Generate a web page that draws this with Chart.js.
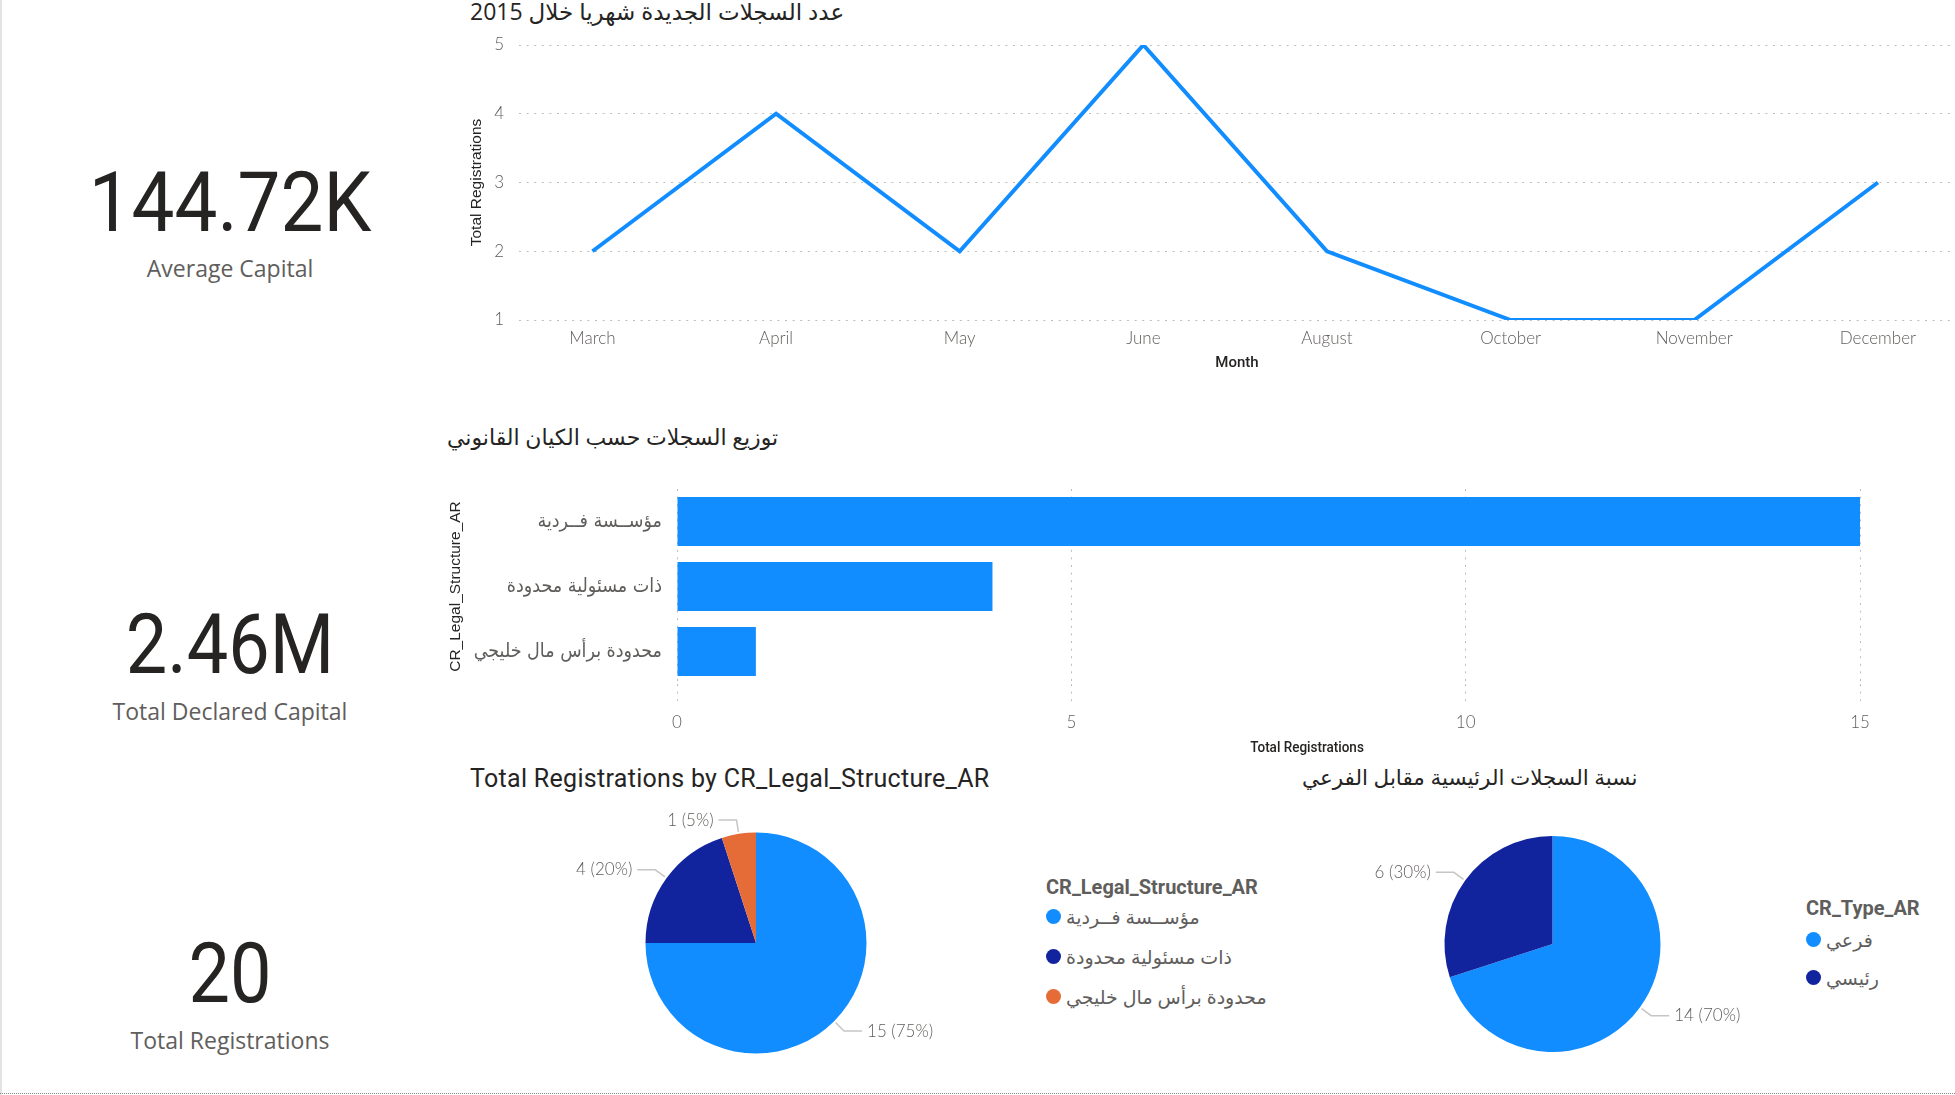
<!DOCTYPE html>
<html lang="ar">
<head>
<meta charset="utf-8">
<title>CR Registrations 2015</title>
<script src="https://cdn.jsdelivr.net/npm/chart.js@4.4.1/dist/chart.umd.min.js"></script>
<style>
  body { margin: 0; width: 1955px; height: 1095px; position: relative; overflow: hidden; background: #fff;
         font-family: 'Segoe UI', 'Open Sans', 'DejaVu Sans', sans-serif; }
  .edge-left { position: absolute; left: 0; top: 0; width: 2px; height: 1095px; background: #e3e3e3; }
  .edge-bottom { position: absolute; left: 0; top: 1093px; width: 1955px; border-top: 1px dotted #8a8a8a; }
  .txt { position: absolute; white-space: nowrap; line-height: 40px; height: 40px; }
  .kpi-val { font-family: Roboto, sans-serif; font-size: 83px; color: #252423; line-height: 100px; height: 100px;
             width: 400px; left: 30px; text-align: center; }
  .kpi-lbl { font-size: 23px; color: #605E5C; width: 400px; left: 30px; text-align: center; }
  .ttl { color: #252423; font-size: 22px; }
  .ttl-en { font-family: Roboto, sans-serif; font-size: 25px; letter-spacing: 0.3px; }
  .axis-ttl { font-family: Roboto, sans-serif; font-weight: 500; font-size: 15px; color: #252423; transform: translateX(-50%) scaleX(0.9); }
  .box { position: absolute; }
  .lg-title { font-family: Roboto, sans-serif; font-weight: 700; font-size: 20px; color: #605E5C; }
  .lg-item { font-size: 19px; color: #605E5C; padding-left: 20px; }
  .lg-item i { position: absolute; left: 0; top: 12px; width: 15px; height: 15px; border-radius: 50%; }
</style>
</head>
<body>
<div class="edge-left"></div>
<div class="edge-bottom"></div>

<div class="txt kpi-val" style="top:153px;transform:scaleX(0.92)">144.72K</div>
<div class="txt kpi-lbl" style="top:248px">Average Capital</div>
<div class="txt kpi-val" style="top:595px;transform:scaleX(0.89)">2.46M</div>
<div class="txt kpi-lbl" style="top:691px">Total Declared Capital</div>
<div class="txt kpi-val" style="top:924px;transform:scaleX(0.89)">20</div>
<div class="txt kpi-lbl" style="top:1020px">Total Registrations</div>

<div class="txt ttl" dir="rtl" style="left:470px;top:-9px;font-size:23px">عدد السجلات الجديدة شهريا خلال 2015</div>
<div class="txt ttl" dir="rtl" style="left:447px;top:416px">توزيع السجلات حسب الكيان القانوني</div>
<div class="txt ttl ttl-en" style="left:470px;top:759px">Total Registrations by CR_Legal_Structure_AR</div>
<div class="txt ttl" dir="rtl" style="left:1302px;top:757px;font-size:21.5px">نسبة السجلات الرئيسية مقابل الفرعي</div>

<div class="box" style="left:460px;top:0;width:1495px;height:390px"><canvas id="lineChart"></canvas></div>
<div class="box" style="left:440px;top:400px;width:1460px;height:360px"><canvas id="barChart"></canvas></div>
<div class="txt axis-ttl" style="left:1307px;top:727px">Total Registrations</div>

<div class="box" style="left:540px;top:800px;width:440px;height:290px"><canvas id="pieStructure"></canvas></div>
<div class="box" style="left:1340px;top:800px;width:440px;height:290px"><canvas id="pieType"></canvas></div>
<div id="legendStructure"></div>
<div id="legendType"></div>

<script>
// ---- data ----
const months = ['March', 'April', 'May', 'June', 'August', 'October', 'November', 'December'];
const monthlyRegistrations = [2, 4, 2, 5, 2, 1, 1, 3];

const legalStructures = ['مؤســسة فــردية', 'ذات مسئولية محدودة', 'محدودة برأس مال خليجي'];
const registrationsByStructure = [15, 4, 1];

const crTypes = ['فرعي', 'رئيسي'];
const registrationsByType = [14, 6];

const blue = '#118DFF', navy = '#12239E', orange = '#E66C37';
const gridGray = '#BDBDBD', leaderGray = '#C8C6C4', labelGray = '#605E5C', darkText = '#252423';
const tickFont = { family: "Lato, 'Segoe UI', sans-serif", size: 17, weight: 300 };
const dots = [2, 5.6];

Chart.defaults.animation = false;
Chart.defaults.plugins.tooltip.enabled = false;
Chart.defaults.plugins.legend.display = false;

// ---- line chart ----
new Chart(document.getElementById('lineChart'), {
    type: 'line',
    data: {
        datasets: [{
            data: monthlyRegistrations.map((v, i) => ({ x: i, y: v })),
            borderColor: blue,
            borderWidth: 4,
            pointRadius: 0,
            tension: 0
        }]
    },
    options: {
        responsive: true,
        maintainAspectRatio: false,
        layout: { padding: { top: 45 } },
        scales: {
            x: {
                type: 'linear', min: -0.4, max: 7.42,
                afterFit: s => { s.height = 70; },
                grid: { display: false, drawTicks: false },
                border: { display: false },
                ticks: { stepSize: 1, includeBounds: false, autoSkip: false, maxRotation: 0, padding: 8,
                         color: labelGray, font: tickFont,
                         callback: v => months[v] ?? '' },
                title: { display: true, text: 'Month', color: darkText, padding: { bottom: 18 },
                         font: { family: 'Roboto, sans-serif', size: 15, weight: 500 } }
            },
            y: {
                min: 1, max: 5,
                afterFit: s => { s.width = 59; },
                grid: { color: gridGray, drawTicks: false },
                border: { display: false, dash: dots },
                ticks: { stepSize: 1, padding: 15, color: labelGray, font: tickFont },
                title: { display: true, text: 'Total Registrations', color: darkText, padding: { top: 7 },
                         font: { family: "'Liberation Sans', Arial, sans-serif", size: 15.5 } }
            }
        }
    }
});

// ---- horizontal bar chart ----
new Chart(document.getElementById('barChart'), {
    type: 'bar',
    data: {
        labels: legalStructures,
        datasets: [{ data: registrationsByStructure, backgroundColor: blue,
                     categoryPercentage: 1, barPercentage: 0.754 }]
    },
    options: {
        indexAxis: 'y',
        responsive: true,
        maintainAspectRatio: false,
        layout: { padding: { top: 89, right: 40 } },
        scales: {
            x: {
                min: 0, max: 15,
                afterFit: s => { s.height = 76; },
                grid: { color: gridGray, tickLength: 21, tickColor: gridGray, tickBorderDash: dots },
                border: { display: false, dash: dots },
                ticks: { stepSize: 5, padding: 7, color: labelGray, font: tickFont }
            },
            y: {
                afterFit: s => { s.width = 237; },
                grid: { display: false, drawTicks: false },
                border: { display: false },
                ticks: { padding: 15, color: labelGray,
                         font: { family: "'DejaVu Sans Condensed', 'DejaVu Sans', sans-serif", size: 19.5 } },
                title: { display: true, text: 'CR_Legal_Structure_AR', color: darkText, padding: { top: 6 },
                         font: { family: "'Liberation Sans', Arial, sans-serif", size: 15.5 } }
            }
        }
    }
});

// ---- pies with leader-line labels ----
const leaderLabels = {
    id: 'leaderLabels',
    afterDatasetsDraw(chart) {
        const ctx = chart.ctx;
        const values = chart.data.datasets[0].data;
        const total = values.reduce((a, b) => a + b, 0);
        ctx.save();
        ctx.font = "300 17px Lato, 'Segoe UI', sans-serif";
        ctx.textBaseline = 'middle';
        chart.getDatasetMeta(0).data.forEach((arc, i) => {
            const p = arc.getProps(['x', 'y', 'startAngle', 'endAngle', 'outerRadius'], true);
            const mid = (p.startAngle + p.endAngle) / 2;
            const c = Math.cos(mid), s = Math.sin(mid);
            const x0 = p.x + c * (p.outerRadius + 2), y0 = p.y + s * (p.outerRadius + 2);
            const x1 = p.x + c * (p.outerRadius + 14), y1 = p.y + s * (p.outerRadius + 14);
            const dir = c >= 0 ? 1 : -1;
            const x2 = x1 + dir * 18;
            ctx.strokeStyle = leaderGray;
            ctx.lineWidth = 1.5;
            ctx.beginPath();
            ctx.moveTo(x0, y0);
            ctx.lineTo(x1, y1);
            ctx.lineTo(x2, y1);
            ctx.stroke();
            ctx.fillStyle = labelGray;
            ctx.textAlign = dir > 0 ? 'left' : 'right';
            ctx.fillText(values[i] + ' (' + Math.round(values[i] / total * 100) + '%)', x2 + dir * 5, y1);
        });
        ctx.restore();
    }
};

function pie(id, labels, values, colors, pad) {
    new Chart(document.getElementById(id), {
        type: 'pie',
        data: { labels: labels, datasets: [{ data: values, backgroundColor: colors, borderWidth: 0 }] },
        options: { responsive: true, maintainAspectRatio: false, layout: { padding: pad } },
        plugins: [leaderLabels]
    });
}
pie('pieStructure', legalStructures, registrationsByStructure, [blue, navy, orange],
    { left: 105.5, right: 113.5, top: 32.5, bottom: 36.5 });
pie('pieType', crTypes, registrationsByType, [blue, navy],
    { left: 104.5, right: 119.5, top: 36, bottom: 38 });

// ---- html legends ----
function legend(id, title, labels, colors, x, titleY, itemYs) {
    const el = document.getElementById(id);
    let html = '<div class="txt lg-title" style="left:' + x + 'px;top:' + (titleY - 20) + 'px">' + title + '</div>';
    labels.forEach((l, i) => {
        html += '<div class="txt lg-item" style="left:' + (x) + 'px;top:' + (itemYs[i] - 20) + 'px">' +
                '<i style="background:' + colors[i] + '"></i>' + l + '</div>';
    });
    el.innerHTML = html;
}
legend('legendStructure', 'CR_Legal_Structure_AR', legalStructures, [blue, navy, orange], 1046, 887, [917, 957, 997]);
legend('legendType', 'CR_Type_AR', crTypes, [blue, navy], 1806, 908, [940, 978]);
</script>
</body>
</html>
